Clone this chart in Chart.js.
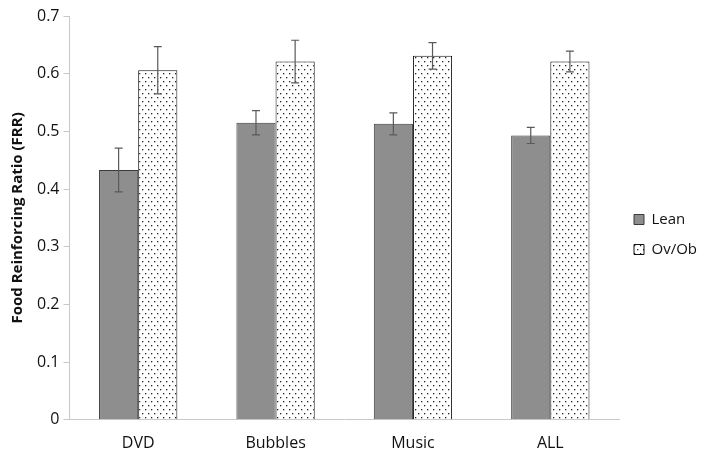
<!DOCTYPE html>
<html lang="en">
<head>
    <meta charset="UTF-8">
    <title>Food Reinforcing Ratio</title>
    <script src="https://cdn.jsdelivr.net/npm/chart.js"></script>
    <style>
        html, body { margin: 0; padding: 0; background: #fff; }
        canvas { display: block; }
    </style>
</head>
<body>
    <canvas id="frrChart" width="704" height="457"></canvas>

    <script>
        // values
        const categories = ['DVD', 'Bubbles', 'Music', 'ALL'];
        const leanValues = [0.433, 0.515, 0.513, 0.493];
        const leanErrors = [0.038, 0.021, 0.019, 0.014];
        const obValues = [0.606, 0.621, 0.631, 0.621];
        const obErrors = [0.041, 0.037, 0.023, 0.018];
        const yTicks = [0, 0.1, 0.2, 0.3, 0.4, 0.5, 0.6, 0.7];

        // dotted fill for the Ov/Ob bars
        function makeDots() {
            const c = document.createElement('canvas');
            c.width = 6;
            c.height = 8;
            const g = c.getContext('2d');
            g.fillStyle = '#fff';
            g.fillRect(0, 0, 6, 8);
            g.fillStyle = '#222';
            g.fillRect(1, 1, 1.3, 1.3);
            g.fillRect(4, 5, 1.3, 1.3);
            return g.createPattern(c, 'repeat');
        }
        const dots = makeDots();

        // error bars drawn at the bar positions from the library scales
        const errorBars = {
            id: 'errorBars',
            afterDatasetsDraw(chart) {
                const ctx = chart.ctx;
                const y = chart.scales.y;
                const errs = [leanErrors, obErrors];
                ctx.save();
                ctx.strokeStyle = '#5a5a5a';
                ctx.lineWidth = 1.2;
                chart.data.datasets.forEach((ds, i) => {
                    chart.getDatasetMeta(i).data.forEach((bar, j) => {
                        const v = ds.data[j];
                        const top = y.getPixelForValue(v + errs[i][j]);
                        const bot = y.getPixelForValue(v - errs[i][j]);
                        ctx.beginPath();
                        ctx.moveTo(bar.x, top);
                        ctx.lineTo(bar.x, bot);
                        ctx.moveTo(bar.x - 4, top);
                        ctx.lineTo(bar.x + 4, top);
                        ctx.moveTo(bar.x - 4, bot);
                        ctx.lineTo(bar.x + 4, bot);
                        ctx.stroke();
                    });
                });
                ctx.restore();
            }
        };

        const ctx = document.getElementById('frrChart').getContext('2d');
        const frrChart = new Chart(ctx, {
            type: 'bar',
            data: {
                labels: categories,
                datasets: [
                    {
                        label: 'Lean',
                        data: leanValues,
                        backgroundColor: '#8e8e8e',
                        borderColor: '#3a3a3a',
                        borderWidth: 1
                    },
                    {
                        label: 'Ov/Ob',
                        data: obValues,
                        backgroundColor: dots,
                        borderColor: '#111',
                        borderWidth: 1
                    }
                ]
            },
            options: {
                responsive: false,
                animation: false,
                devicePixelRatio: 1,
                layout: { padding: { left: 9, right: 0, top: 16, bottom: 4 } },
                datasets: {
                    bar: { categoryPercentage: 0.57, barPercentage: 1.0 }
                },
                scales: {
                    y: {
                        min: 0,
                        max: 0.7,
                        afterBuildTicks(axis) {
                            axis.ticks = yTicks.map(v => ({ value: v }));
                        },
                        grid: {
                            drawOnChartArea: false,
                            color: '#c8c8c8',
                            tickLength: 6
                        },
                        border: { color: '#c8c8c8' },
                        ticks: {
                            color: '#111',
                            font: { family: 'Open Sans', size: 16 },
                            padding: 4
                        },
                        title: {
                            display: true,
                            text: 'Food Reinforcing Ratio (FRR)',
                            color: '#111',
                            font: { family: 'Open Sans', size: 15, weight: 'bold' },
                            padding: { top: 0, bottom: 6 }
                        }
                    },
                    x: {
                        // hidden tick marks only used as the gap under the axis
                        grid: { display: false, drawTicks: true, tickLength: 14 },
                        border: { color: '#c8c8c8' },
                        ticks: {
                            color: '#111',
                            font: { family: 'Open Sans', size: 16 },
                            padding: 0,
                            maxRotation: 0
                        }
                    }
                },
                plugins: {
                    legend: {
                        position: 'right',
                        maxWidth: 85,
                        labels: {
                            boxWidth: 10,
                            boxHeight: 10,
                            padding: 15,
                            color: '#111',
                            font: { family: 'Open Sans', size: 15 }
                        }
                    },
                    tooltip: { enabled: false }
                }
            },
            plugins: [errorBars]
        });
    </script>
</body>
</html>
